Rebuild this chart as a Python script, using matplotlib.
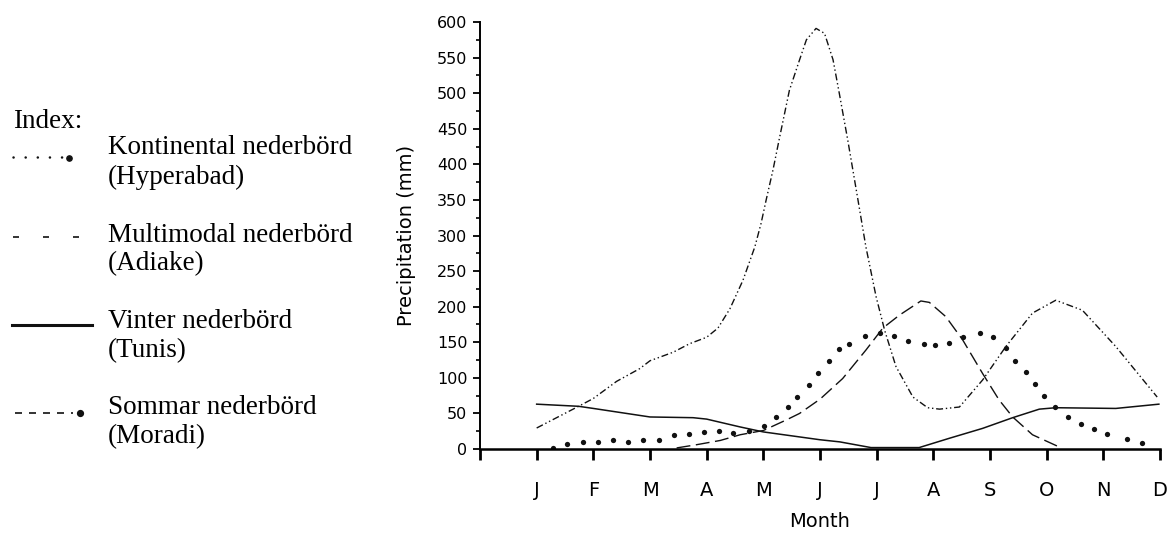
import matplotlib
matplotlib.use('Agg')
import matplotlib.pyplot as plt
from matplotlib.lines import Line2D
from matplotlib.ticker import MultipleLocator

months = ['J', 'F', 'M', 'A', 'M', 'J', 'J', 'A', 'S', 'O', 'N', 'D']

# month position (J = 1) and precipitation (mm)
adiake_x = [1, 1.74, 2, 2.41, 2.82, 3, 3.41, 3.7, 4, 4.2, 4.41, 4.64, 4.85, 4.96, 5.05,
            5.17, 5.29, 5.46, 5.64, 5.76, 5.93, 6.08, 6.23, 6.34, 6.49, 6.67, 6.81, 6.99,
            7.14, 7.34, 7.64, 7.9, 8.11, 8.46, 8.87, 9.28, 9.75, 10.16, 10.63, 11.22, 11.95]
adiake_y = [29.5, 60, 71, 95, 113, 124, 136, 148, 157, 170, 197, 237, 284, 317, 350,
            392, 439, 504, 547, 575, 591, 584, 547, 500, 434, 350, 284, 214,
            167, 116, 73, 58, 56, 59, 97, 144, 191, 209, 195, 144, 73]

moradi_x = [3.47, 3.82, 4.24, 4.59, 5, 5.41, 5.64, 6.0, 6.4, 6.81, 7.11, 7.4, 7.78, 7.93,
            8.22, 8.52, 8.87, 9.16, 9.4, 9.75, 10.19]
moradi_y = [1.5, 6, 12, 20, 26, 41, 50, 70, 99, 139, 170, 188, 208, 206,
            186, 153, 106, 69, 45, 20, 4]

tunis_x = [1, 1.74, 2, 3, 3.76, 4, 4.59, 5, 6, 6.35, 6.9, 7.75, 8.28, 8.87, 9.4, 9.87,
           10.16, 11.22, 11.98]
tunis_y = [63, 60, 57, 45, 44, 42, 31, 24, 13, 10, 2, 2, 15, 29, 44, 56,
           58, 57, 63]

hyper_x = [1.29, 1.54, 1.81, 2.09, 2.35, 2.62, 2.88, 3.15, 3.42, 3.69, 3.95, 4.22, 4.47,
           4.75, 5.01, 5.22, 5.43, 5.6, 5.81, 5.97, 6.15, 6.34, 6.52, 6.8, 7.05, 7.31,
           7.56, 7.84, 8.03, 8.27, 8.53, 8.82, 9.06, 9.29, 9.44, 9.64, 9.8, 9.96, 10.15,
           10.37, 10.6, 10.84, 11.07, 11.42, 11.69]
hyper_y = [2, 7, 10, 10, 12, 10, 12, 13, 19, 21, 24, 25, 22,
           25, 32, 45, 59, 73, 90, 107, 123, 140, 147, 159, 163, 159,
           152, 147, 146, 149, 158, 163, 157, 142, 124, 108, 92, 74, 59,
           45, 35, 28, 21, 14, 9]

legend_names = ['Kontinental nederbörd', 'Multimodal nederbörd',
                'Vinter nederbörd', 'Sommar nederbörd']
legend_places = ['(Hyperabad)', '(Adiake)', '(Tunis)', '(Moradi)']

W, H = 1167, 534
fig = plt.figure(figsize=(W / 100, H / 100), dpi=100)
ax = fig.add_axes([480 / W, 1 - 449 / H, 680 / W, 427 / H])

k = '#111111'
ax.plot(adiake_x, adiake_y, color=k, lw=1.0, dashes=(5, 2, 1, 2, 1, 2))
ax.plot(moradi_x, moradi_y, color=k, lw=1.0, dashes=(10, 4))
ax.plot(tunis_x, tunis_y, color=k, lw=1.1)
ax.plot(hyper_x, hyper_y, 'o', color=k, ms=3.8, mec='none')

ax.set_xlim(0, 12)
ax.set_ylim(0, 600)
ax.spines['top'].set_visible(False)
ax.spines['right'].set_visible(False)
ax.spines['bottom'].set_linewidth(1.8)
ax.spines['left'].set_linewidth(1.4)

ax.set_xticks(range(0, 13))
ax.set_xticklabels([''] + months)
ax.yaxis.set_major_locator(MultipleLocator(50))
ax.yaxis.set_minor_locator(MultipleLocator(25))
ax.tick_params(axis='x', length=8, width=2, pad=15, labelsize=14)
ax.tick_params(axis='y', which='major', length=5, width=1.3, pad=4, labelsize=11.5)
ax.tick_params(axis='y', which='minor', length=3, width=1.2)

ax.set_xlabel('Month', fontsize=14, labelpad=9)
ax.set_ylabel('Precipitation (mm)', fontsize=14, labelpad=15)

# legend drawn by hand on the left
serif = 'Liberation Serif'
fs = 19.5
fig.text(13 / W, 1 - 122 / H, 'Index:', family=serif, fontsize=fs, va='center')
text_rows = [148, 235, 322, 408]
for name, place, r in zip(legend_names, legend_places, text_rows):
    fig.text(108 / W, 1 - r / H, name, family=serif, fontsize=fs, va='center')
    fig.text(108 / W, 1 - (r + 29) / H, place, family=serif, fontsize=fs, va='center')

def fy(p):
    return 1 - p / H

fig.add_artist(Line2D([13 / W, 62 / W], [fy(157), fy(157)], color=k, lw=1.8,
                      dashes=(0.05, 4.8), dash_capstyle='round'))
fig.add_artist(Line2D([69 / W], [fy(158)], marker='o', ms=3.8, color=k))
fig.add_artist(Line2D([13 / W, 80 / W], [fy(237), fy(237)], color=k, lw=1.2,
                      dashes=(3.6, 14.4)))
fig.add_artist(Line2D([12 / W, 92 / W], [fy(325), fy(325)], color=k, lw=2.2))
fig.add_artist(Line2D([15 / W, 73 / W], [fy(413), fy(413)], color=k, lw=1.2,
                      dashes=(4.2, 4.2)))
fig.add_artist(Line2D([80 / W], [fy(413)], marker='o', ms=4.2, color=k))

fig.savefig('out.png', dpi=100)
